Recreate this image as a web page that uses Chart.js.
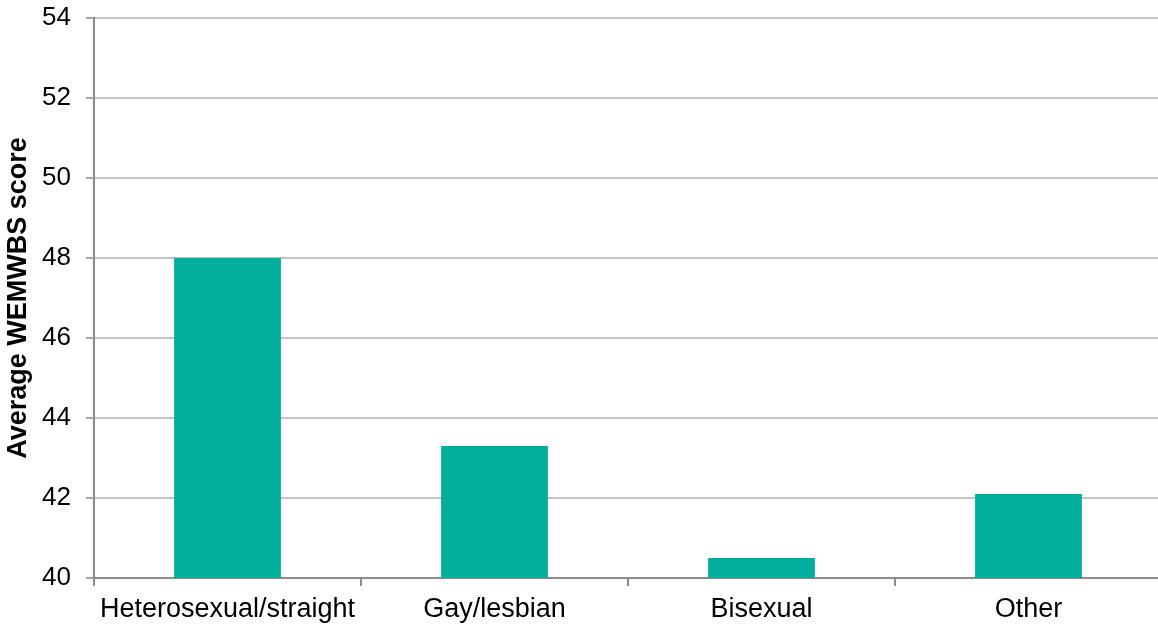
<!DOCTYPE html>
<html>
<head>
<meta charset="utf-8">
<title>WEMWBS by sexual orientation</title>
<script src="https://cdn.jsdelivr.net/npm/chart.js@4"></script>
<style>
  html, body { margin: 0; padding: 0; background: #fff; overflow: hidden; }
  canvas { display: block; }
</style>
</head>
<body>
<canvas id="wemwbsChart" width="1166" height="626"></canvas>
<script>
// average WEMWBS score per group
const groups = ["Heterosexual/straight", "Gay/lesbian", "Bisexual", "Other"];
const scores = [48.0, 43.3, 40.5, 42.1];
const yTicks = [40, 42, 44, 46, 48, 50, 52, 54];

const barColour = "#02AE9C";
const fontFamily = "'Liberation Sans', Arial, sans-serif";

const ctx = document.getElementById("wemwbsChart").getContext("2d");
new Chart(ctx, {
    type: "bar",
    data: {
        labels: groups,
        datasets: [{
            label: "Average WEMWBS score",
            data: scores,
            backgroundColor: barColour,
            borderWidth: 0,
            barPercentage: 0.4,
            categoryPercentage: 1.0
        }]
    },
    options: {
        responsive: false,
        animation: false,
        layout: { padding: { top: 18, right: 4, bottom: 0, left: 0 } },
        plugins: {
            legend: { display: false },
            tooltip: { enabled: false }
        },
        scales: {
            x: {
                offset: true,
                grid: {
                    offset: true,
                    drawOnChartArea: false,
                    drawTicks: true,
                    tickLength: 8,
                    tickColor: "#8c8c8c",
                    lineWidth: 2
                },
                border: { color: "#8c8c8c", width: 2 },
                ticks: {
                    color: "#000",
                    padding: 7,
                    maxRotation: 0,
                    font: { family: fontFamily, size: 27 }
                },
                afterFit: function(scale) { scale.height = 48; }
            },
            y: {
                min: yTicks[0],
                max: yTicks[yTicks.length - 1],
                afterBuildTicks: function(scale) {
                    scale.ticks = yTicks.map(v => ({ value: v }));
                },
                grid: {
                    color: "#c3c3c3",
                    lineWidth: 2,
                    tickLength: 8,
                    tickColor: "#a6a6a6"
                },
                border: { color: "#8c8c8c", width: 2 },
                ticks: {
                    color: "#000",
                    padding: 15,
                    font: { family: fontFamily, size: 26 }
                },
                title: {
                    display: true,
                    text: "Average WEMWBS score",
                    color: "#000",
                    padding: { top: 2, bottom: 0 },
                    font: { family: fontFamily, size: 27, weight: "bold" }
                },
                afterFit: function(scale) {
                    scale.width = 94;
                    // let the top label overhang the plot instead of pushing it down
                    scale.paddingTop = 0;
                    scale.paddingBottom = 0;
                }
            }
        }
    }
});
</script>
</body>
</html>
